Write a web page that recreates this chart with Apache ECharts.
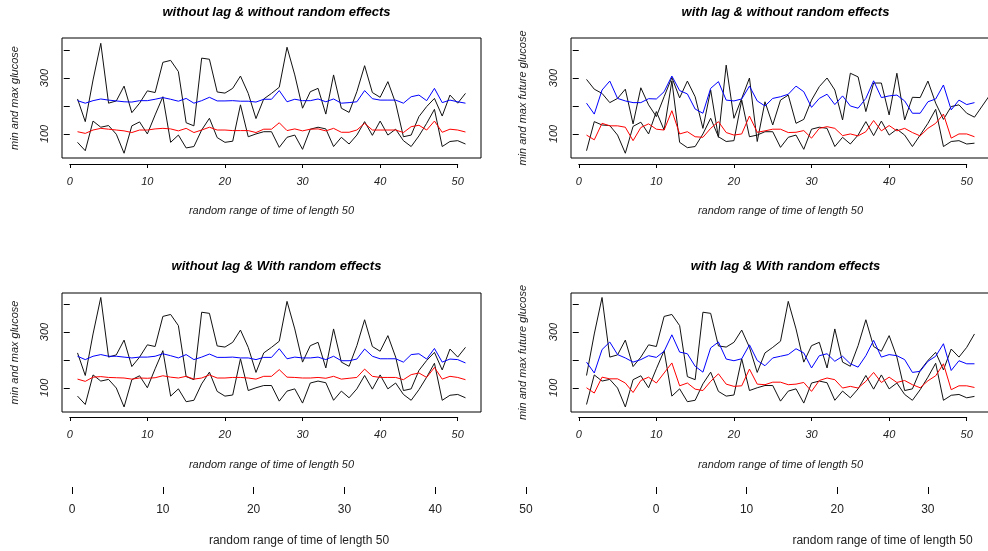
<!DOCTYPE html>
<html><head><meta charset="utf-8">
<script src="https://cdn.jsdelivr.net/npm/echarts@6/dist/echarts.min.js"></script>
<style>html,body{margin:0;padding:0;background:#fff}#c{width:988px;height:551px}</style>
</head><body><div id="c"></div>
<script>
// time index
var timeIdx = [1,2,3,4,5,6,7,8,9,10,11,12,13,14,15,16,17,18,19,20,21,22,23,24,25,26,27,28,29,30,31,32,33,34,35,36,37,38,39,40,41,42,43,44,45,46,47,48,49,50,51,52,53];
var xTicks = [0,10,20,30,40,50];
var yTicks = [100,200,300,400];
var yLabels = [100,300];

var titles = ['without lag & without random effects','with lag & without random effects','without lag & With random effects','with lag & With random effects'];
var yNames = ['min and max glucose','min and max future glucose','min and max glucose','min and max future glucose'];
var xName = 'random range of time of length 50';

// panel 1 / panel 3 (same observed min/max)
var p1Max = [225,144,293,424,210,218,271,176,210,254,248,356,363,323,140,129,371,367,250,246,263,307,245,155,225,245,267,410,311,192,251,263,171,311,192,177,251,344,248,231,287,210,90,96,162,198,227,164,239,210,245];
var p1Min = [70,40,146,124,130,99,31,129,143,100,168,233,70,96,50,55,114,156,87,70,74,204,90,100,108,108,52,88,96,45,117,124,118,55,88,64,96,144,95,146,96,117,76,55,93,138,188,55,73,76,64];
var p1Blue = [219,210,219,225,221,218,215,214,219,219,224,230,224,217,227,210,219,231,218,218,219,217,217,214,224,224,255,215,224,219,219,225,215,225,210,212,215,255,226,221,221,221,210,233,239,219,263,212,221,215,210];
var p1Red = [108,102,114,120,117,114,111,105,114,114,118,120,118,111,120,105,114,124,114,114,112,112,112,105,117,117,140,112,118,111,117,118,111,120,106,106,114,138,114,114,114,114,105,126,131,114,146,106,117,114,107];

// panel 2
var p2A = [295,260,245,212,227,260,136,265,204,162,233,302,229,289,233,120,257,88,346,156,227,300,73,215,132,221,239,138,152,221,269,300,257,150,317,304,180,282,282,168,317,150,231,230,289,210,152,198,204,174,160,200,240];
var p2B = [40,144,132,130,96,31,127,142,100,180,114,290,70,51,55,100,156,90,73,76,221,90,96,108,108,52,88,96,45,117,124,120,55,88,64,96,144,94,146,96,117,96,55,96,138,188,55,73,76,64,67];
var p2Blue = [210,171,257,289,227,218,212,212,226,225,251,307,255,243,189,174,263,287,221,218,225,271,218,200,227,233,242,271,251,195,227,242,205,236,200,192,227,290,230,236,239,218,174,174,215,225,275,186,221,205,212];
var p2Red = [96,79,138,129,129,124,76,123,136,117,114,183,100,108,90,88,120,144,105,96,100,164,106,111,117,117,105,106,112,85,120,126,120,94,100,93,108,148,111,130,111,120,105,93,120,138,171,85,100,100,90];

// panel 3
var p3Blue = [213,201,213,219,213,213,210,207,210,210,213,222,215,207,219,201,210,221,209,209,210,207,207,201,209,209,240,204,210,207,207,210,201,213,197,197,203,239,213,204,204,204,192,219,222,203,241,192,203,201,189];
var p3Red = [131,123,138,140,137,136,135,131,135,134,136,143,138,135,141,131,135,146,135,135,137,137,135,131,141,141,165,138,137,135,135,137,134,141,131,134,137,167,141,137,137,137,129,147,153,137,173,131,141,137,129];

// panel 4
var p4Max = [144,293,424,210,218,271,176,210,254,248,356,363,323,140,129,371,367,250,246,263,307,245,155,225,245,267,410,311,192,251,263,171,311,192,177,251,344,248,231,287,210,90,96,162,198,227,164,239,210,245,293];
var p4Min = [40,146,124,130,99,31,129,143,100,168,233,70,96,50,55,114,156,87,70,74,204,90,100,108,108,52,88,96,45,117,124,118,55,88,64,96,144,95,146,96,117,76,55,93,138,188,55,73,76,64,69];
var p4Blue = [192,153,237,264,219,207,192,201,215,209,231,290,228,222,177,156,243,264,203,197,204,254,198,179,207,213,219,240,225,171,215,222,195,213,186,174,215,270,210,219,215,201,155,159,195,213,258,162,197,186,186];
var p4Red = [100,81,138,132,132,117,83,126,138,117,153,189,107,117,95,90,123,150,113,105,107,167,113,111,120,120,111,113,119,87,126,135,129,99,105,99,123,155,119,138,119,126,111,100,125,143,186,93,107,107,101];

var panels = [
  {lines:[[p1Max,'#111'],[p1Min,'#111'],[p1Blue,'#0000ff'],[p1Red,'#ff0000']]},
  {lines:[[p2A,'#111'],[p2B,'#111'],[p2Blue,'#0000ff'],[p2Red,'#ff0000']]},
  {lines:[[p1Max,'#111'],[p1Min,'#111'],[p3Blue,'#0000ff'],[p3Red,'#ff0000']]},
  {lines:[[p4Max,'#111'],[p4Min,'#111'],[p4Blue,'#0000ff'],[p4Red,'#ff0000']]}
];

// layout (pixels)
var boxes = [
  {left:62, top:38, width:419, height:120, ymin:14, ymax:443},
  {left:571, top:38, width:419, height:120, ymin:14, ymax:443},
  {left:62, top:293, width:419, height:119, ymin:13, ymax:440},
  {left:571, top:293, width:419, height:119, ymin:13, ymax:440}
];
var FONT = "'Liberation Sans', Arial, sans-serif";
var unit = 419/54;

var grid = [], xAxis = [], yAxis = [], series = [], title = [];
boxes.forEach(function(b, k){
  grid.push({left:b.left, top:b.top, width:b.width, height:b.height, show:true, borderColor:'#000', borderWidth:1, backgroundColor:'transparent', outerBoundsMode:'none', containLabel:false});
  xAxis.push({gridIndex:k, type:'value', min:-1, max:53, show:true,
    axisLine:{show:false}, axisTick:{show:false}, axisLabel:{show:false}, splitLine:{show:false},
    name:xName, nameLocation:'middle', nameGap:47,
    nameTextStyle:{fontFamily:FONT, fontStyle:'italic', fontSize:11, color:'#222'}});
  yAxis.push({gridIndex:k, type:'value', min:b.ymin, max:b.ymax,
    axisLine:{show:false}, splitLine:{show:false},
    axisTick:{show:true, length:6, customValues:yTicks, lineStyle:{color:'#000'}},
    axisLabel:{show:true, customValues:yLabels, rotate:90, margin:12, fontFamily:FONT, fontStyle:'italic', fontSize:11, color:'#222'},
    name:yNames[k], nameLocation:'middle', nameRotate:90, nameGap:(k%2===0?42:43),
    nameTextStyle:{fontFamily:FONT, fontStyle:'italic', fontSize:11, color:'#222'}});
  title.push({text:titles[k], left:b.left + b.width/2, top:(k<2?1:255), textAlign:'center',
    textStyle:{fontFamily:FONT, fontStyle:'italic', fontWeight:'bold', fontSize:13, color:'#000'}});
  panels[k].lines.forEach(function(L){
    series.push({type:'line', xAxisIndex:k, yAxisIndex:k, symbol:'none', animation:false, clip:true,
      lineStyle:{width:1, color:L[1]}, silent:true,
      data:L[0].map(function(v,i){return [timeIdx[i], v];})});
  });
});

// R-style x axes drawn from 0 to 50 below each box
var axisOnly = [
  {left:62+unit, top:163, width:50*unit, italic:true, size:11, margin:12, tick:4},
  {left:571+unit, top:163, width:50*unit, italic:true, size:11, margin:12, tick:4},
  {left:62+unit, top:416, width:50*unit, italic:true, size:11, margin:12, tick:4},
  {left:571+unit, top:416, width:50*unit, italic:true, size:11, margin:12, tick:4},
  {left:72, top:486, width:454, italic:false, size:12, margin:17, tick:7, noLine:true, name:true},
  {left:656, top:486, width:453, italic:false, size:12, margin:17, tick:7, noLine:true, name:true}
];
axisOnly.forEach(function(a){
  var gi = grid.length;
  grid.push({left:a.left, top:a.top, width:a.width, height:1, show:false, outerBoundsMode:'none', containLabel:false});
  xAxis.push({gridIndex:gi, type:'value', min:xTicks[0], max:xTicks[xTicks.length-1], interval:10,
    axisLine:{show:!a.noLine, lineStyle:{color:'#000', width:1}},
    axisTick:{show:true, length:a.tick, lineStyle:{color:'#000'}},
    axisLabel:{show:true, margin:a.margin, fontFamily:FONT, fontStyle:a.italic?'italic':'normal', fontSize:a.size, color:'#222', showMinLabel:true, showMaxLabel:true},
    splitLine:{show:false},
    name:a.name?xName:'', nameLocation:'middle', nameGap:48,
    nameTextStyle:{fontFamily:FONT, fontSize:12, color:'#222'}});
  yAxis.push({gridIndex:gi, type:'value', show:false, min:0, max:1});
});

var chart = echarts.init(document.getElementById('c'), null, {renderer:'canvas'});
chart.setOption({animation:false, backgroundColor:'#fff', title:title, grid:grid, xAxis:xAxis, yAxis:yAxis, series:series});
</script>
</body></html>
